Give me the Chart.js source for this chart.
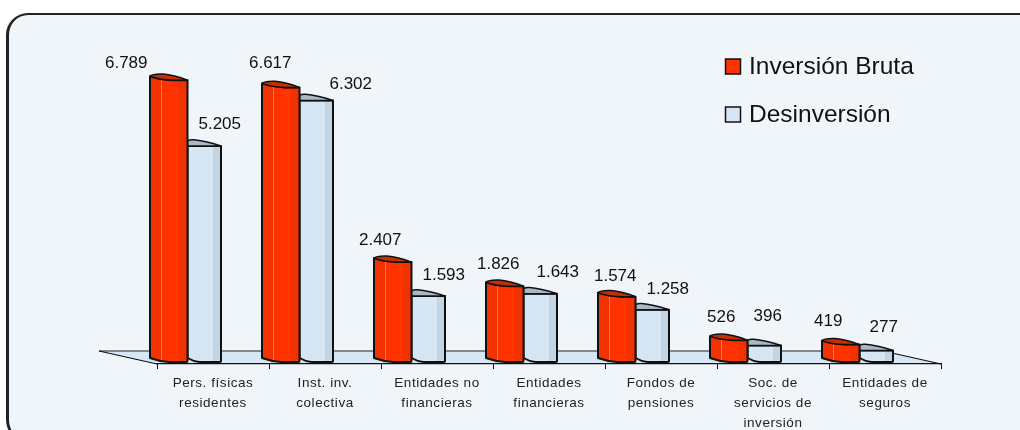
<!DOCTYPE html>
<html>
<head>
<meta charset="utf-8">
<title>Inversión Bruta y Desinversión</title>
<script src="https://cdn.jsdelivr.net/npm/chart.js@4"></script>
<style>
  html, body { margin: 0; background: #fff; overflow: hidden; }
  #wrap { position: relative; width: 1020px; height: 430px; overflow: hidden; }
  #panel {
    position: absolute; left: 6px; top: 13px; width: 1030px; height: 425px;
    background: #f0f5fa; border: 2px solid #222; border-left-width: 3px; border-radius: 22px;
  }
  canvas { position: absolute; left: 0; top: 0; }
</style>
</head>
<body>
<div id="wrap">
  <div id="panel"></div>
  <canvas id="chart" width="1020" height="430"></canvas>
</div>
<script>
const categories = [
  ["Pers. físicas", "residentes"],
  ["Inst. inv.", "colectiva"],
  ["Entidades no", "financieras"],
  ["Entidades", "financieras"],
  ["Fondos de", "pensiones"],
  ["Soc. de", "servicios de", "inversión"],
  ["Entidades de", "seguros"],
];
const inversionBruta = [6789, 6617, 2407, 1826, 1574, 526, 419];
const desinversion = [5205, 6302, 1593, 1643, 1258, 396, 277];

// the labels in the original were hand placed, so each one gets its own nudge
const redNudge = [[-69, -19], [-37, -26], [-39, -24], [-33, -24], [-28, -22], [-34, -25], [-39, -25]];
const blueNudge = [[-11, -24], [8, -18], [-11, -23], [-9, -24], [-11, -22], [-23, -31], [-19, -25]];

const RED = "#ff3300";
const BLUE = "#d6e6f4";
const fmt = (v) => new Intl.NumberFormat("de-DE").format(v);

// ── Fake 3D bars, floor and labels ───────────────────────
const SHIFT_X = -27.5;
const SHIFT_Y = -2;
const DEPTH_X = 58;
const DEPTH_Y = 13;

function drawBar(c, el, idx) {
  const isRed = idx === 0;
  const w = el.width;
  const L = el.x - w / 2 + SHIFT_X + (isRed ? 0 : 2);
  const R = el.x + w / 2 + SHIFT_X + (isRed ? 2 : 0);
  const T = el.y + SHIFT_Y;
  const B = el.base + SHIFT_Y;
  const mid = L + (isRed ? 19 : 12);

  // body with the stripes of the cylinder effect
  const grad = c.createLinearGradient(L, 0, R, 0);
  if (isRed) {
    grad.addColorStop(0, "#f03300");
    grad.addColorStop(0.3, "#f03300");
    grad.addColorStop(0.3, "#ff7a50");
    grad.addColorStop(0.33, "#ff7a50");
    grad.addColorStop(0.33, RED);
    grad.addColorStop(0.78, RED);
    grad.addColorStop(0.78, "#ee3300");
    grad.addColorStop(1, "#ee3300");
  } else {
    grad.addColorStop(0, BLUE);
    grad.addColorStop(0.76, BLUE);
    grad.addColorStop(0.76, "#c4d4e4");
    grad.addColorStop(1, "#c4d4e4");
  }

  c.save();
  c.lineJoin = "round";
  c.lineWidth = 2;
  c.strokeStyle = "#111";

  c.beginPath();
  if (isRed) {
    c.moveTo(L, T - 4);
    c.quadraticCurveTo(L + 9, T - 0.5, mid + 4, T);
  } else {
    c.moveTo(L, T);
  }
  c.lineTo(R, T);
  c.lineTo(R, B - 1);
  c.quadraticCurveTo(R, B, R - 2, B);
  c.lineTo(mid, B);
  c.quadraticCurveTo(L + (mid - L) / 2, B - 0.5, L, B - 4);
  c.closePath();
  c.fillStyle = grad;
  c.fill();
  c.stroke();

  // top cap
  c.beginPath();
  c.moveTo(L, T - (isRed ? 4 : 5));
  c.quadraticCurveTo(L + 2, T - 6.5, mid - 6, T - 6.2);
  c.quadraticCurveTo(mid + 5, T - 5.5, R, T);
  if (isRed) c.lineTo(mid + 4, T), c.quadraticCurveTo(L + 9, T - 0.5, L, T - 4);
  else c.lineTo(L, T);
  c.closePath();
  c.fillStyle = isRed ? "#c43000" : "#a8b8c8";
  c.fill();
  c.lineWidth = 1.5;
  c.stroke();
  c.restore();
}

const fake3d = {
  id: "fake3d",
  beforeDraw(chart) {
    const c = chart.ctx;
    const x = chart.scales.x;
    const b = x.top;
    c.save();
    c.beginPath();
    c.moveTo(x.left - DEPTH_X, b - DEPTH_Y);
    c.lineTo(x.right - DEPTH_X, b - DEPTH_Y);
    c.lineTo(x.right, b);
    c.lineTo(x.left, b);
    c.closePath();
    c.fillStyle = BLUE;
    c.fill();
    c.lineWidth = 1.6;
    c.strokeStyle = "#666";
    c.beginPath();
    c.moveTo(x.left - DEPTH_X, b - DEPTH_Y);
    c.lineTo(x.right - DEPTH_X, b - DEPTH_Y);
    c.stroke();
    c.strokeStyle = "#111";
    c.lineWidth = 1.2;
    c.beginPath();
    c.moveTo(x.left, b);
    c.lineTo(x.left - DEPTH_X, b - DEPTH_Y);
    c.moveTo(x.right, b);
    c.lineTo(x.right - DEPTH_X, b - DEPTH_Y);
    c.stroke();
    c.restore();
    c.letterSpacing = "0.55px";
  },
  beforeDatasetDraw(chart, args) {
    chart.getDatasetMeta(args.index).data.forEach((el) => drawBar(chart.ctx, el, args.index));
    return false;
  },
  beforeDatasetsDraw(chart) {
    chart.ctx.letterSpacing = "0px";
  },
  afterDatasetsDraw(chart) {
    const c = chart.ctx;
    c.save();
    c.textAlign = "center";
    c.textBaseline = "middle";
    c.fillStyle = "#111";
    c.font = "17px 'Liberation Sans'";
    chart.data.datasets.forEach((ds, di) => {
      const nudge = di === 0 ? redNudge : blueNudge;
      chart.getDatasetMeta(di).data.forEach((el, i) => {
        c.fillText(fmt(ds.data[i]), el.x + nudge[i][0], el.y + nudge[i][1]);
      });
    });

    // legend
    c.textAlign = "left";
    c.font = "24.5px 'Liberation Sans'";
    chart.data.datasets.forEach((ds, di) => {
      const y = 59 + di * 48;
      c.fillStyle = ds.backgroundColor;
      c.strokeStyle = "#111";
      c.lineWidth = 1.5;
      c.fillRect(725.5, y, 15, 15);
      c.strokeRect(725.5, y, 15, 15);
      c.fillStyle = "#111";
      c.fillText(ds.label, 749, y + 8);
    });
    c.restore();
  },
};

new Chart(document.getElementById("chart"), {
  type: "bar",
  data: {
    labels: categories,
    datasets: [
      { label: "Inversión Bruta", data: inversionBruta, backgroundColor: RED },
      { label: "Desinversión", data: desinversion, backgroundColor: BLUE },
    ],
  },
  options: {
    responsive: false,
    animation: false,
    layout: { padding: { left: 157, right: 79, top: 32, bottom: 0 } },
    datasets: { bar: { categoryPercentage: 0.634, barPercentage: 1 } },
    plugins: { legend: { display: false }, tooltip: { enabled: false } },
    scales: {
      x: {
        afterFit(scale) {
          scale.height = 66;
        },
        grid: { drawOnChartArea: false, color: "#111", tickLength: 5 },
        border: { display: true, color: "#111", width: 1.2 },
        ticks: {
          autoSkip: false,
          maxRotation: 0,
          padding: 4,
          color: "#222",
          font: { family: "'Liberation Sans'", size: 13.5, lineHeight: 1.48 },
        },
      },
      y: { display: false, min: 0, max: 8000 },
    },
  },
  plugins: [fake3d],
});
</script>
</body>
</html>
